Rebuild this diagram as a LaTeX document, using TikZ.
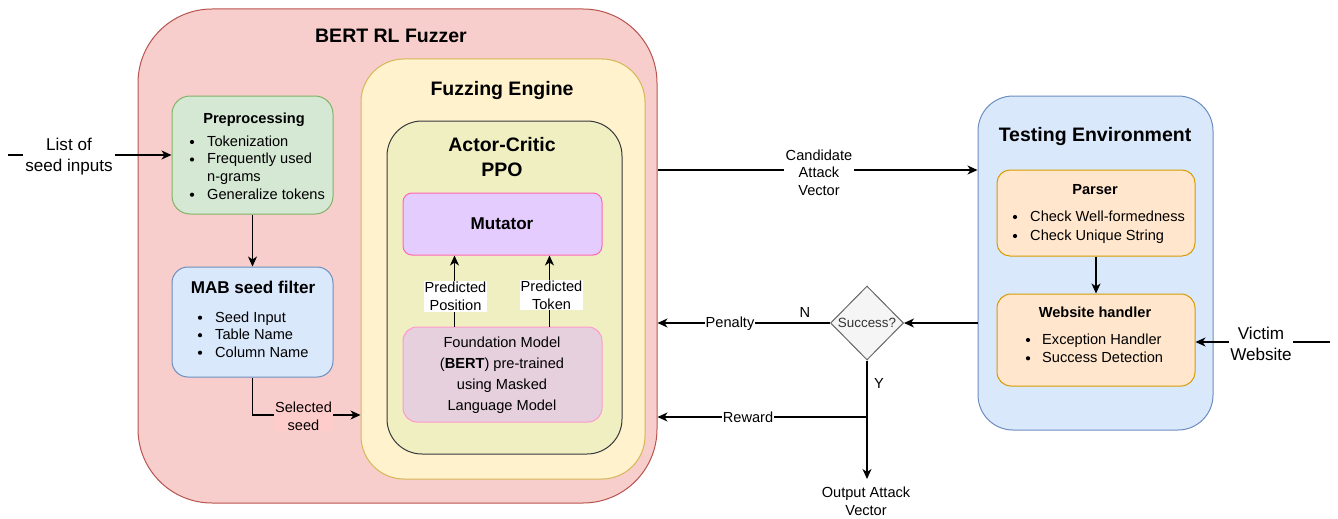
\documentclass[tikz,border=0pt]{standalone}
\usepackage{fontspec}
\setmainfont{Liberation Sans}
\usetikzlibrary{arrows.meta,shapes.geometric}
\definecolor{bertF}{HTML}{F8CECC}\definecolor{bertD}{HTML}{B85450}
\definecolor{fuzzF}{HTML}{FFF2CC}\definecolor{fuzzD}{HTML}{D6B656}
\definecolor{acF}{HTML}{F0EFC2}\definecolor{acD}{HTML}{36393D}
\definecolor{mutF}{HTML}{E5CCFF}\definecolor{mutD}{HTML}{FF66B3}
\definecolor{fmF}{HTML}{E6D0DE}\definecolor{fmD}{HTML}{FF99CC}
\definecolor{preF}{HTML}{D5E8D4}\definecolor{preD}{HTML}{82B366}
\definecolor{bluF}{HTML}{DAE8FC}\definecolor{bluD}{HTML}{6C8EBF}
\definecolor{parF}{HTML}{FFE6CC}\definecolor{parD}{HTML}{D79B00}
\definecolor{diaF}{HTML}{F5F5F5}\definecolor{diaD}{HTML}{666666}\definecolor{diaT}{HTML}{333333}
\definecolor{selF}{HTML}{FFCCCC}
\begin{document}
\begin{tikzpicture}[x=1pt,y=-1pt,
  edge/.style={line width=1.2pt, draw=black},
  arr/.style={edge, -{Stealth[length=10pt,width=9pt,inset=3pt]}},
  box/.style={draw, line width=1pt, inner sep=0pt},
  f12/.style={font=\fontsize{14.6}{17.6}\selectfont, inner sep=0pt},
  f12b/.style={font=\fontsize{14.6}{17.6}\selectfont\bfseries, inner sep=0pt},
  f14/.style={font=\fontsize{17.1}{21}\selectfont, inner sep=0pt},
  f14b/.style={font=\fontsize{17.1}{21}\selectfont\bfseries, inner sep=0pt},
  f16b/.style={font=\fontsize{19.5}{25}\selectfont\bfseries, inner sep=0pt},
  lbl/.style={font=\fontsize{14.6}{17.6}\selectfont, fill=white, inner sep=1pt, align=center},
  li/.style={font=\fontsize{14.6}{17.6}\selectfont, inner sep=0pt, anchor=base west}
]
\useasboundingbox (0,0) rectangle (1338,519);
% ---- containers and boxes
\node[box, fill=bertF, draw=bertD, minimum width=519pt, minimum height=494pt, rounded corners=74pt] (bert) at (397.5,256) {};
\node[box, fill=fuzzF, draw=fuzzD, minimum width=284pt, minimum height=420pt, rounded corners=43pt] (fuzz) at (503,269) {};
\node[box, fill=acF, draw=acD, minimum width=235pt, minimum height=333pt, rounded corners=35pt] (ac) at (504.5,287.5) {};
\node[box, fill=mutF, draw=mutD, minimum width=199pt, minimum height=62pt, rounded corners=9pt] (mut) at (502.5,224) {};
\node[box, fill=fmF, draw=fmD, minimum width=199pt, minimum height=95pt, rounded corners=14pt] (fm) at (502.5,374.5) {};
\node[box, fill=preF, draw=preD, minimum width=161pt, minimum height=118pt, rounded corners=18pt] (pre) at (252.5,155) {};
\node[box, fill=bluF, draw=bluD, minimum width=161pt, minimum height=110pt, rounded corners=16pt] (mab) at (252.5,322) {};
\node[box, fill=bluF, draw=bluD, minimum width=235pt, minimum height=334pt, rounded corners=35pt] (test) at (1095.5,263) {};
\node[box, fill=parF, draw=parD, minimum width=198pt, minimum height=86pt, rounded corners=13pt] (par) at (1096,213) {};
\node[box, fill=parF, draw=parD, minimum width=198pt, minimum height=92pt, rounded corners=14pt] (wh) at (1096,340) {};
\node[diamond, draw=diaD, fill=diaF, line width=1pt, inner sep=0pt, minimum width=73pt, minimum height=74pt, font=\fontsize{13.4}{16}\selectfont, text=diaT] (dia) at (867,323) {Success?};
% ---- titles and texts in boxes
\node[f16b] (tbert) at (391,36) {BERT RL Fuzzer};
\node[f16b] (tfuzz) at (502,90.5) {Fuzzing Engine};
\node[f16b, align=center] (tac) at (502,157.5) {Actor-Critic\\PPO};
\node[f14b] (tmut) at (502,224) {Mutator};
\node[align=center, inner sep=0pt, font=\fontsize{14.6}{21}\selectfont] (tfm) at (502,375.5) {Foundation Model\\(\textbf{BERT}) pre-trained\\using Masked\\Language Model};
\node[f12b] (tpre) at (254,119.5) {Preprocessing};
\node[li] (p1) at (207,146.3) {Tokenization};
\node[li] (p2) at (207,163.8) {Frequently used};
\node[li] (p3) at (207,181.4) {n-grams};
\node[li] (p4) at (207,199) {Generalize tokens};
\fill (192,142) circle (2.1pt) (192,159.5) circle (2.1pt) (192,194.7) circle (2.1pt);
\node[f14b] (tmab) at (253,287) {MAB seed filter};
\node[li] (m1) at (215,322) {Seed Input};
\node[li] (m2) at (215,339.5) {Table Name};
\node[li] (m3) at (215,357) {Column Name};
\fill (200,317.7) circle (2.1pt) (200,335.2) circle (2.1pt) (200,352.7) circle (2.1pt);
\node[f16b] (ttest) at (1095,136.5) {Testing Environment};
\node[f12b] (tpar) at (1095,189.5) {Parser};
\node[li] (r1) at (1030,221.3) {Check Well-formedness};
\node[li] (r2) at (1030,240.3) {Check Unique String};
\fill (1015,217) circle (2.1pt) (1015,236) circle (2.1pt);
\node[f12b] (twh) at (1095,312) {Website handler};
\node[li] (w1) at (1042,344.3) {Exception Handler};
\node[li] (w2) at (1042,362.6) {Success Detection};
\fill (1028,340) circle (2.1pt) (1028,358.3) circle (2.1pt);
% ---- helper coordinates
\coordinate (lsA) at (8,155);
\coordinate (selY) at (0,415);
\coordinate (posX) at (454.5,0);
\coordinate (tokX) at (549.5,0);
\coordinate (candY) at (0,170);
\coordinate (rewY) at (0,417);
\coordinate (outTip) at (867,479);
\coordinate (vicA) at (1330,342);
% ---- connectors
\draw[arr] (lsA) -- (pre.west);
\draw[arr] (pre.south) -- (mab.north);
\draw[arr] (mab.south) |- (fuzz.west |- selY);
\draw[arr] (fm.north -| posX) -- (mut.south -| posX);
\draw[arr] (fm.north -| tokX) -- (mut.south -| tokX);
\draw[arr] (bert.east |- candY) -- (test.west |- candY);
\draw[arr] (test.west |- dia) -- (dia.east);
\draw[arr] (dia.west) -- (bert.east |- dia.west);
\draw[arr] (dia.south) -- (outTip);
\draw[arr] (dia.south |- rewY) -- (bert.east |- rewY);
\draw[arr] (vicA) -- (wh.east |- vicA);
\draw[arr] (par.south) -- (wh.north);
% ---- connector labels
\node[f14, fill=white, inner sep=2.5pt, align=center] (lseed) at (69,156.5) {List of\\seed inputs};
\node[lbl, fill=selF] (lsel) at (303.5,416) {Selected\\seed};
\node[lbl] (lpos) at (455.5,296.5) {Predicted\\Position};
\node[lbl] (ltok) at (551.5,295) {Predicted\\Token};
\node[lbl, inner sep=1.5pt] (lcand) at (819,172.5) {Candidate\\Attack\\Vector};
\node[lbl, inner sep=0.5pt] (lpen) at (730,323.5) {Penalty};
\node[f12] (lN) at (805,312) {N};
\node[f12] (lY) at (879,383) {Y};
\node[lbl, inner sep=0.5pt] (lrew) at (748,417) {Reward};
\node[f12, align=center] (lout) at (866,501.5) {Output Attack\\Vector};
\node[f14, fill=white, inner sep=1pt, align=center] (lvic) at (1261,343.5) {Victim\\Website};
\end{tikzpicture}
\end{document}
